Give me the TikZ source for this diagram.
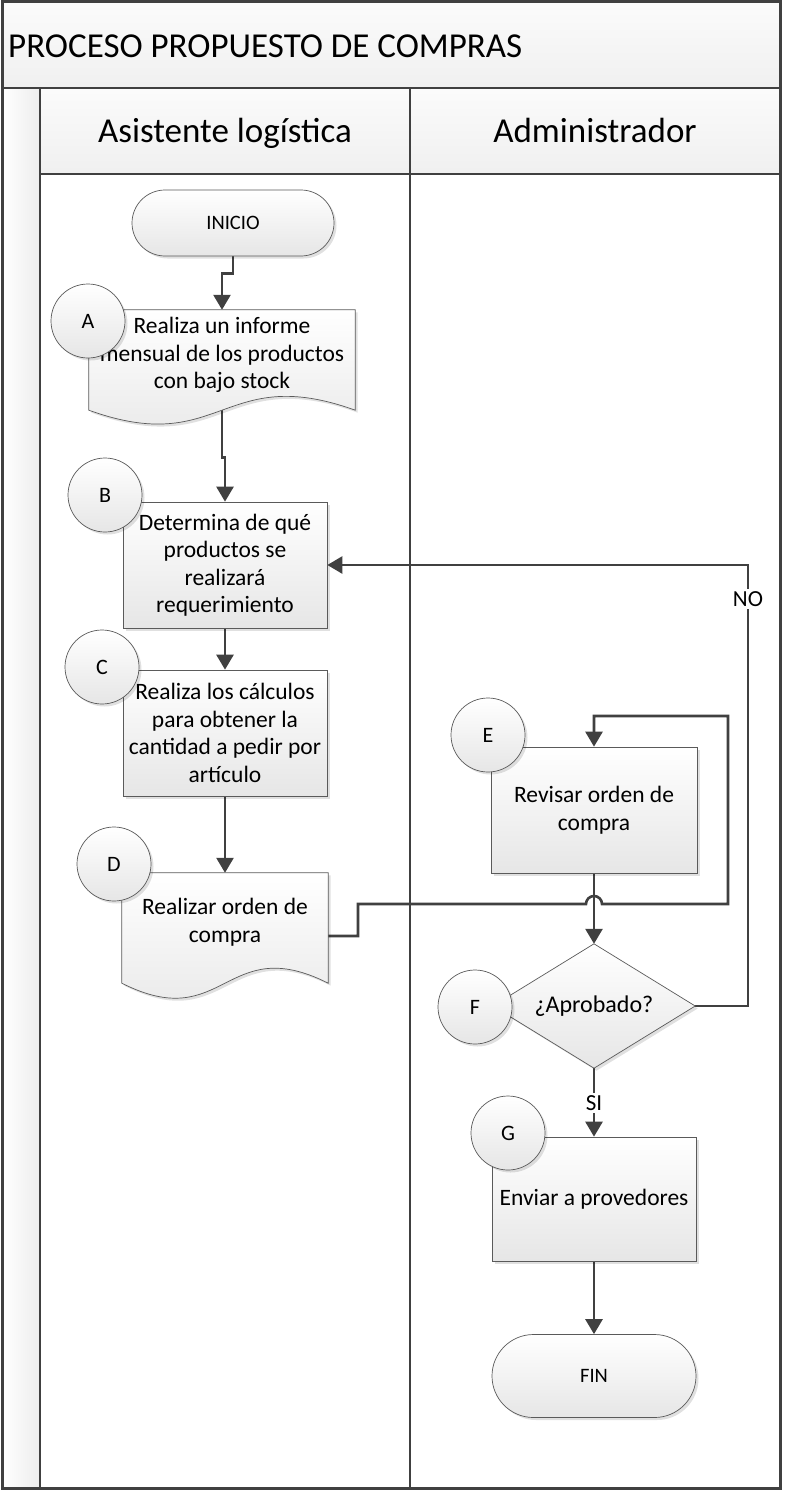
\documentclass[tikz,border=0pt]{standalone}
\usepackage{fontspec}
\setmainfont{Carlito}
\usetikzlibrary{shadows,arrows.meta,calc,shapes.misc}
\definecolor{ink}{HTML}{404040}
\definecolor{edgec}{HTML}{5A5A5A}
\definecolor{shadec}{HTML}{E6E6E6}
\pgfdeclarelayer{back}
\pgfdeclarelayer{conn}
\pgfdeclarelayer{docs}
\pgfsetlayers{back,conn,docs,main}
\begin{document}
\begin{tikzpicture}[x=1pt,y=-1pt,
  shp/.style={draw=edgec, line width=0.7pt, top color=white, bottom color=shadec,
    drop shadow={shadow xshift=2.5pt, shadow yshift=-2.5pt, fill=black, opacity=0.12}},
  procbox/.style={shp, rectangle, minimum width=204pt, minimum height=126pt, inner sep=0pt,
    align=center, font=\fontsize{23.5}{27.5}\selectfont},
  docbox/.style={rectangle, inner sep=0pt, align=center, font=\fontsize{23.5}{27.5}\selectfont},
  term/.style={shp, rounded rectangle, minimum width=204pt, inner sep=0pt, font=\fontsize{20.5}{24}\selectfont},
  tag/.style={shp, circle, minimum size=74pt, inner sep=0pt, font=\fontsize{22}{26}\selectfont},
  arr/.style={draw=ink, line width=2.6pt, -{Triangle[length=15pt,width=17pt]}},
  lbltext/.style={fill=white, inner sep=2pt, font=\fontsize{23}{26}\selectfont},
  frame/.style={draw=ink, line width=2.5pt},
  headtext/.style={font=\fontsize{35}{40}\selectfont, inner sep=0pt, anchor=base}
]
\useasboundingbox (0,0) rectangle (784,1490);

% ---------- swimlane frame ----------
\begin{pgfonlayer}{back}
  \fill[white] (2,2) rectangle (780,1488);
  \shade[top color=gray!3, bottom color=gray!12] (2,2) rectangle (780,88);
  \shade[left color=white, right color=gray!14] (2,88) rectangle (40,1488);
  \shade[top color=gray!3, bottom color=gray!12] (40,88) rectangle (780,174);
  \draw[frame, line width=2pt] (2,88) -- (780,88);
  \draw[frame, line width=2pt] (40,174) -- (780,174);
  \draw[frame] (40,88) -- (40,1488);
  \draw[frame] (410,88) -- (410,1488);
  \draw[frame, line width=3pt] (2,2) rectangle (780,1488);
\end{pgfonlayer}
\node[headtext, anchor=base west] (title) at (8,58) {PROCESO PROPUESTO DE COMPRAS};
\node[headtext] (lane1) at (225,143) {Asistente logística};
\node[headtext] (lane2) at (595,143) {Administrador};

% ---------- shapes ----------
\node[term, minimum width=202pt, minimum height=66pt] (ini) at (233,223) {INICIO};

\node[docbox, minimum width=266pt, minimum height=90pt] (A) at (222,355)
  {Realiza un informe\\mensual de los productos\\con bajo stock};
\begin{pgfonlayer}{docs}
  \path[shp] (A.north west) -- (A.north east) -- ($(A.south east)+(0,10)$)
    .. controls ($(A.south)+(0,-38)$) and ($(A.south)+(0,58)$) .. ($(A.south west)+(0,10)$) -- cycle;
\end{pgfonlayer}

\node[procbox] (B) at (225,565) {Determina de qué\\productos se\\realizará\\requerimiento};
\node[procbox] (C) at (225,733) {Realiza los cálculos\\para obtener la\\cantidad a pedir por\\artículo};

\node[docbox, minimum width=206pt, minimum height=98pt] (D) at (225,922)
  {Realizar orden de\\compra};
\begin{pgfonlayer}{docs}
  \path[shp] (D.north west) -- (D.north east) -- ($(D.south east)+(0,12)$)
    .. controls ($(D.south)+(0,-40)$) and ($(D.south)+(0,64)$) .. ($(D.south west)+(0,12)$) -- cycle;
\end{pgfonlayer}

\node[procbox, minimum width=206pt] (E) at (594,810) {Revisar orden de\\compra};

\node[rectangle, minimum width=202pt, minimum height=124pt, inner sep=0pt] (F) at (594,1006) {};
\path[shp] (F.north) -- (F.east) -- (F.south) -- (F.west) -- cycle;
\node[font=\fontsize{24}{28}\selectfont] (Ftext) at (F.center) {¿Aprobado?};

\node[procbox, minimum height=124pt] (G) at (594,1199) {Enviar a provedores};
\node[term, minimum height=83pt] (fin) at (594,1376) {FIN};

% ---------- letter tags ----------
\node[tag] (tA) at (88,321) {A};
\node[tag] (tB) at (105,495) {B};
\node[tag] (tC) at (102,667) {C};
\node[tag] (tD) at (114,864) {D};
\node[tag] (tE) at (488,735) {E};
\node[tag] (tF) at (475,1007) {F};
\node[tag] (tG) at (508,1133) {G};

% ---------- connectors ----------
\begin{pgfonlayer}{conn}
  \draw[arr] (ini.south) -- ++(0,17) -| (A.north);
  \draw[arr] (A.south) -- ($(A.south)+(0,57)$) -| (B.north);
  \draw[arr] (B.south) -- (C.north);
  \draw[arr] (C.south) -- (D.north);
  \draw[arr] ($(D.east)+(0,14)$) -- (358,936) -- (358,904) -- (586,904)
     arc[start angle=180, end angle=360, radius=8] -- (728,904) -- (728,716) -| (E.north);
  \draw[arr] (E.south) -- (F.north);
  \draw[arr] (F.east) -| (748,565) -- (B.east);
  \draw[arr] (F.south) -- (G.north);
  \draw[arr] (G.south) -- (fin.north);
\end{pgfonlayer}
\node[lbltext] (no) at (748,599) {NO};
\node[lbltext] (si) at (594,1103) {SI};
\end{tikzpicture}
\end{document}
